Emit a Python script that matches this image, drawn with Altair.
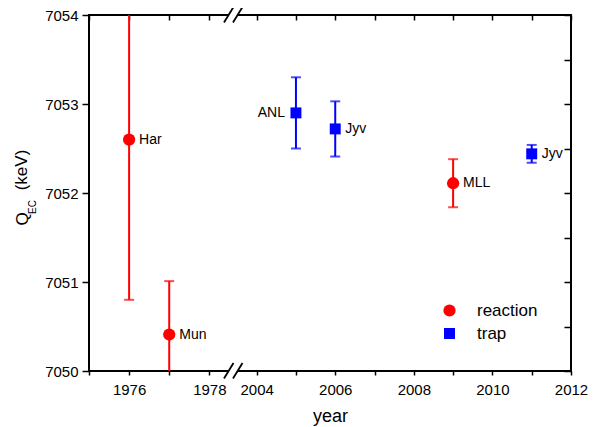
import altair as alt
import pandas as pd

# ---- data ----
years = [1976, 1977, 2005, 2006, 2009, 2011]
qec = [7052.60, 7050.41, 7052.90, 7052.72, 7052.11, 7052.44]
err = [1.80, 0.60, 0.40, 0.31, 0.27, 0.10]
labels = ["Har", "Mun", "ANL", "Jyv", "MLL", "Jyv"]
kinds = ["reaction", "reaction", "trap", "trap", "reaction", "trap"]

kind_domain = ["reaction", "trap"]
x_ticks = [1975, 1976, 1977, 1978, 2004, 2005, 2006, 2007, 2008, 2009, 2010, 2011, 2012]
y_ticks = [7050, 7050.5, 7051, 7051.5, 7052, 7052.5, 7053, 7053.5, 7054]

df = pd.DataFrame({"year": years, "qec": qec, "err": err, "lab": labels, "kind": kinds})

W, H = 482, 356
FONT = "Liberation Sans"

# broken x axis: piecewise linear scale that collapses 1978.6 .. 2003.5
xscale = alt.Scale(domain=[1975, 1978.6, 2003.5, 2012], range=[0, 144.4, 148, W],
                   nice=False, zero=False)
yscale = alt.Scale(domain=[7050, 7054], nice=False, zero=False)
cscale = alt.Scale(domain=kind_domain, range=["#ff0000", "#0000ff"])

leg = alt.Legend(orient="none", legendX=352, legendY=287, title=None,
                 labelFont=FONT, labelFontSize=17, labelColor="black",
                 labelOffset=19, rowPadding=5, padding=0, symbolStrokeWidth=0)

base = alt.Chart(df).transform_calculate(lo="datum.qec - datum.err", hi="datum.qec + datum.err")

x_none = alt.X("year:Q", scale=xscale, axis=None)

x_main = alt.X("year:Q", scale=xscale, axis=alt.Axis(
    orient="bottom", values=x_ticks, format="d",
    labelExpr="datum.value % 2 === 0 ? datum.label : ''",
    tickSize=4, labelPadding=7, labelFlush=False, labelOverlap=False,
    domain=False, grid=False, title="year", titlePadding=10))
y_main = alt.Y("qec:Q", scale=yscale, axis=alt.Axis(
    orient="left", values=y_ticks, format="d",
    labelExpr="datum.value % 1 === 0 ? datum.label : ''",
    tickSize={"condition": {"test": "datum.value % 1 !== 0", "value": 3.5}, "value": 7},
    labelPadding=4, labelOverlap=False, domain=False, grid=False, title=None))

color_nl = alt.Color("kind:N", scale=cscale, legend=None)

bars = base.mark_rule(strokeWidth=2, clip=True).encode(
    x=x_none, y=alt.Y("lo:Q", scale=yscale, axis=None), y2="hi:Q", color=color_nl)
cap_lo = base.mark_tick(orient="horizontal", size=10, thickness=2, clip=True).encode(
    x=x_none, y=alt.Y("lo:Q", scale=yscale, axis=None), color=color_nl)
cap_hi = base.mark_tick(orient="horizontal", size=10, thickness=2, clip=True).encode(
    x=x_none, y=alt.Y("hi:Q", scale=yscale, axis=None), color=color_nl)

points = base.mark_point(filled=True, opacity=1, strokeWidth=0).encode(
    x=x_main, y=y_main,
    color=alt.Color("kind:N", scale=cscale, legend=leg),
    shape=alt.Shape("kind:N", scale=alt.Scale(domain=kind_domain, range=["circle", "square"]), legend=leg),
    size=alt.Size("kind:N", scale=alt.Scale(domain=kind_domain, range=[150, 120]), legend=leg),
)

txt_r = base.transform_filter("datum.lab !== 'ANL'").mark_text(
    align="left", baseline="middle", dx=10, font=FONT, fontSize=14, color="black").encode(
    x=x_none, y=alt.Y("qec:Q", scale=yscale, axis=None), text="lab:N")
txt_l = base.transform_filter("datum.lab === 'ANL'").mark_text(
    align="right", baseline="middle", dx=-11, font=FONT, fontSize=14, color="black").encode(
    x=x_none, y=alt.Y("qec:Q", scale=yscale, axis=None), text="lab:N")

# inward ticks on top and right frame
frame = alt.Chart(df).mark_point(opacity=0).encode(
    x=alt.X("year:Q", scale=xscale, axis=alt.Axis(
        orient="top", values=x_ticks, labels=False, tickSize=5, offset=-5,
        domain=False, grid=False, title=None)),
    y=alt.Y("qec:Q", scale=yscale, axis=alt.Axis(
        orient="right", values=y_ticks, labels=False, tickSize=7, offset=-7,
        domain=False, grid=False, title=None)),
)

one = pd.DataFrame({"k": [0]})
deco = []
for yy in (0, H):
    deco.append(alt.Chart(one).mark_rect(color="white").encode(
        x=alt.value(139), x2=alt.value(149), y=alt.value(yy - 2), y2=alt.value(yy + 2)))
    for x0 in (135, 144):
        deco.append(alt.Chart(one).mark_rule(color="black", strokeWidth=1.8).encode(
            x=alt.value(x0), y=alt.value(yy + 7.5), x2=alt.value(x0 + 9.5), y2=alt.value(yy - 8)))

ytitle = [
    alt.Chart(one).mark_text(text="Q", angle=270, font=FONT, fontSize=17, align="center",
                             baseline="middle", color="black").encode(x=alt.value(-66.5), y=alt.value(204)),
    alt.Chart(one).mark_text(text="EC", angle=270, font=FONT, fontSize=10, align="center",
                             baseline="middle", color="black").encode(x=alt.value(-56), y=alt.value(192)),
    alt.Chart(one).mark_text(text="(keV)", angle=270, font=FONT, fontSize=17, align="center",
                             baseline="middle", color="black").encode(x=alt.value(-67), y=alt.value(155)),
]

chart = alt.layer(points, frame, bars, cap_lo, cap_hi, txt_r, txt_l, *deco, *ytitle).resolve_axis(
    x="independent", y="independent"
).properties(
    width=W, height=H, autosize="none",
    padding={"left": 81, "top": 7, "right": 18, "bottom": 58},
).configure_view(
    stroke="black", strokeWidth=2
).configure_axis(
    labelFont=FONT, labelFontSize=15, labelColor="black",
    tickColor="black", tickWidth=1.5,
    titleFont=FONT, titleFontSize=18, titleFontWeight="normal", titleColor="black",
)

chart.save("out.html", embed_options={"renderer": "svg", "actions": False})
